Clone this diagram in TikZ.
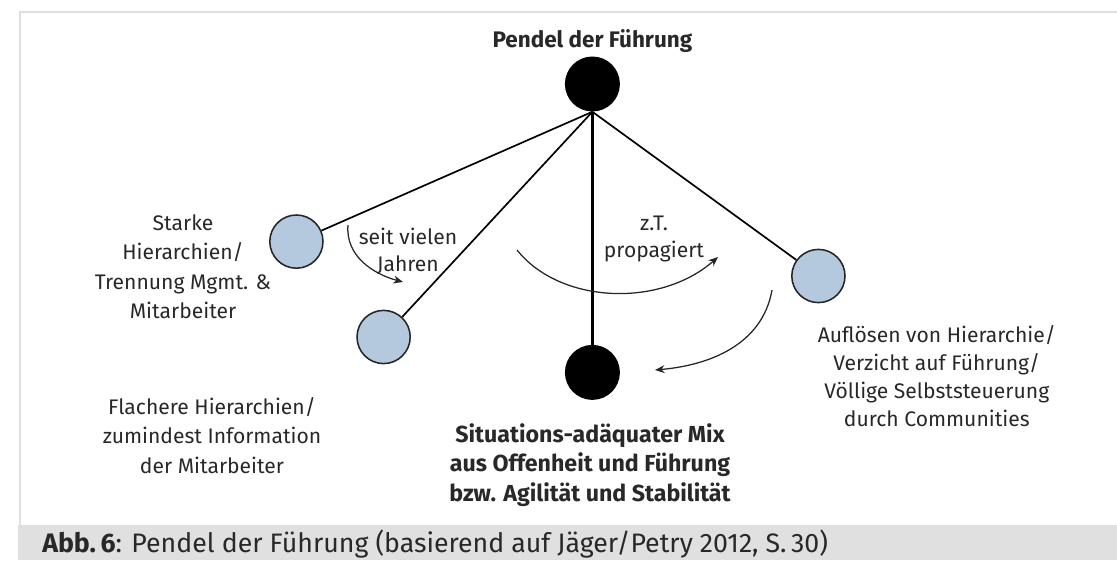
\documentclass[tikz,border=0pt]{standalone}
\usepackage{fontspec}
\setmainfont{Fira Sans}
\usetikzlibrary{arrows.meta}
\definecolor{blobblue}{RGB}{180,200,222}
\definecolor{txtgray}{RGB}{40,40,40}
\begin{document}
\begin{tikzpicture}[font=\fontsize{15pt}{21pt}\selectfont,
    pendel/.style={circle, fill=black, minimum size=1.375cm, inner sep=0},
    blob/.style={circle, draw=black!85, line width=1.1pt, fill=blobblue, minimum size=1.33cm, inner sep=0},
    lbl/.style={anchor=north, align=center, inner sep=0, text=txtgray},
    swing/.style={line width=0.9pt, black!85, -{Stealth[length=2.4mm,width=2mm]}}]
    \useasboundingbox (0,0) rectangle (27.925,14);
    % Rahmen und Bildunterschrift
    \draw[line width=2pt, black!12] (27.925,13.7) -- (0.5,13.7) -- (0.5,0.875);
    \fill[black!12] (0.45,0) rectangle (27.925,0.875);
    \node[anchor=base west, inner sep=0, text=txtgray, font=\fontsize{19pt}{22pt}\selectfont] (caption) at (1.05,0.18)
      {\textbf{Abb.\,6}: Pendel der Führung (basierend auf Jäger/Petry 2012, S.\,30)};

    % Pendel
    \node[pendel] (pivot) at (14.81,11.9) {};
    \node[pendel] (bob)   at (14.81,4.69) {};
    \node[blob] (starr)  at (7.41,7.96) {};
    \node[blob] (flach)  at (9.59,5.575) {};
    \node[blob] (frei)   at (20.46,7.1) {};
    \draw[line width=1.2pt] (pivot.south) -- (starr);
    \draw[line width=1.2pt] (pivot.south) -- (flach);
    \draw[line width=1.2pt] (pivot.south) -- (frei);
    \draw[line width=1.8pt] (pivot.south) -- (bob);

    \node[anchor=base, inner sep=0, text=txtgray, font=\fontsize{16pt}{21pt}\selectfont\bfseries] (title)
      at (14.81,12.8) {Pendel der Führung};
    \node[lbl] (lstarr) at (4.575,8.65)
      {Starke\\ Hierarchien/\\ Trennung Mgmt. \&\\ Mitarbeiter};
    \node[lbl] (lflach) at (5.3,4.075)
      {Flachere Hierarchien/\\ zumindest Information\\ der Mitarbeiter};
    \node[lbl, font=\fontsize{16.5pt}{21pt}\selectfont\bfseries] (lmix) at (14.75,3.425)
      {Situations-adäquater Mix\\ aus Offenheit und Führung\\ bzw. Agilität und Stabilität};
    \node[lbl, font=\fontsize{15pt}{20pt}\selectfont] (lfrei) at (23.42,5.875)
      {Auflösen von Hierarchie/\\ Verzicht auf Führung/\\ Völlige Selbststeuerung\\ durch Communities};
    \node[lbl, font=\fontsize{15pt}{19pt}\selectfont] (ljahre) at (10.2,8.3) {seit vielen\\ Jahren};
    \node[lbl, font=\fontsize{15pt}{19pt}\selectfont] (lprop) at (16.35,8.6) {z.T.\\ propagiert};

    % Schwungpfeile
    \coordinate (s1a) at (8.7,8.375);
    \coordinate (s1b) at (10.075,6.95);
    \coordinate (s2a) at (12.925,7.75);
    \coordinate (s2b) at (17.95,7.575);
    \coordinate (s3a) at (19.3,6.75);
    \coordinate (s3b) at (16.375,4.75);
    \draw[swing] (s1a) to[out=-95, in=165] (s1b);
    \draw[swing] (s2a) .. controls (14.0,6.4) and (16.5,6.3) .. (s2b);
    \draw[swing] (s3a) to[out=-100, in=5] (s3b);
  \end{tikzpicture}
\end{document}
